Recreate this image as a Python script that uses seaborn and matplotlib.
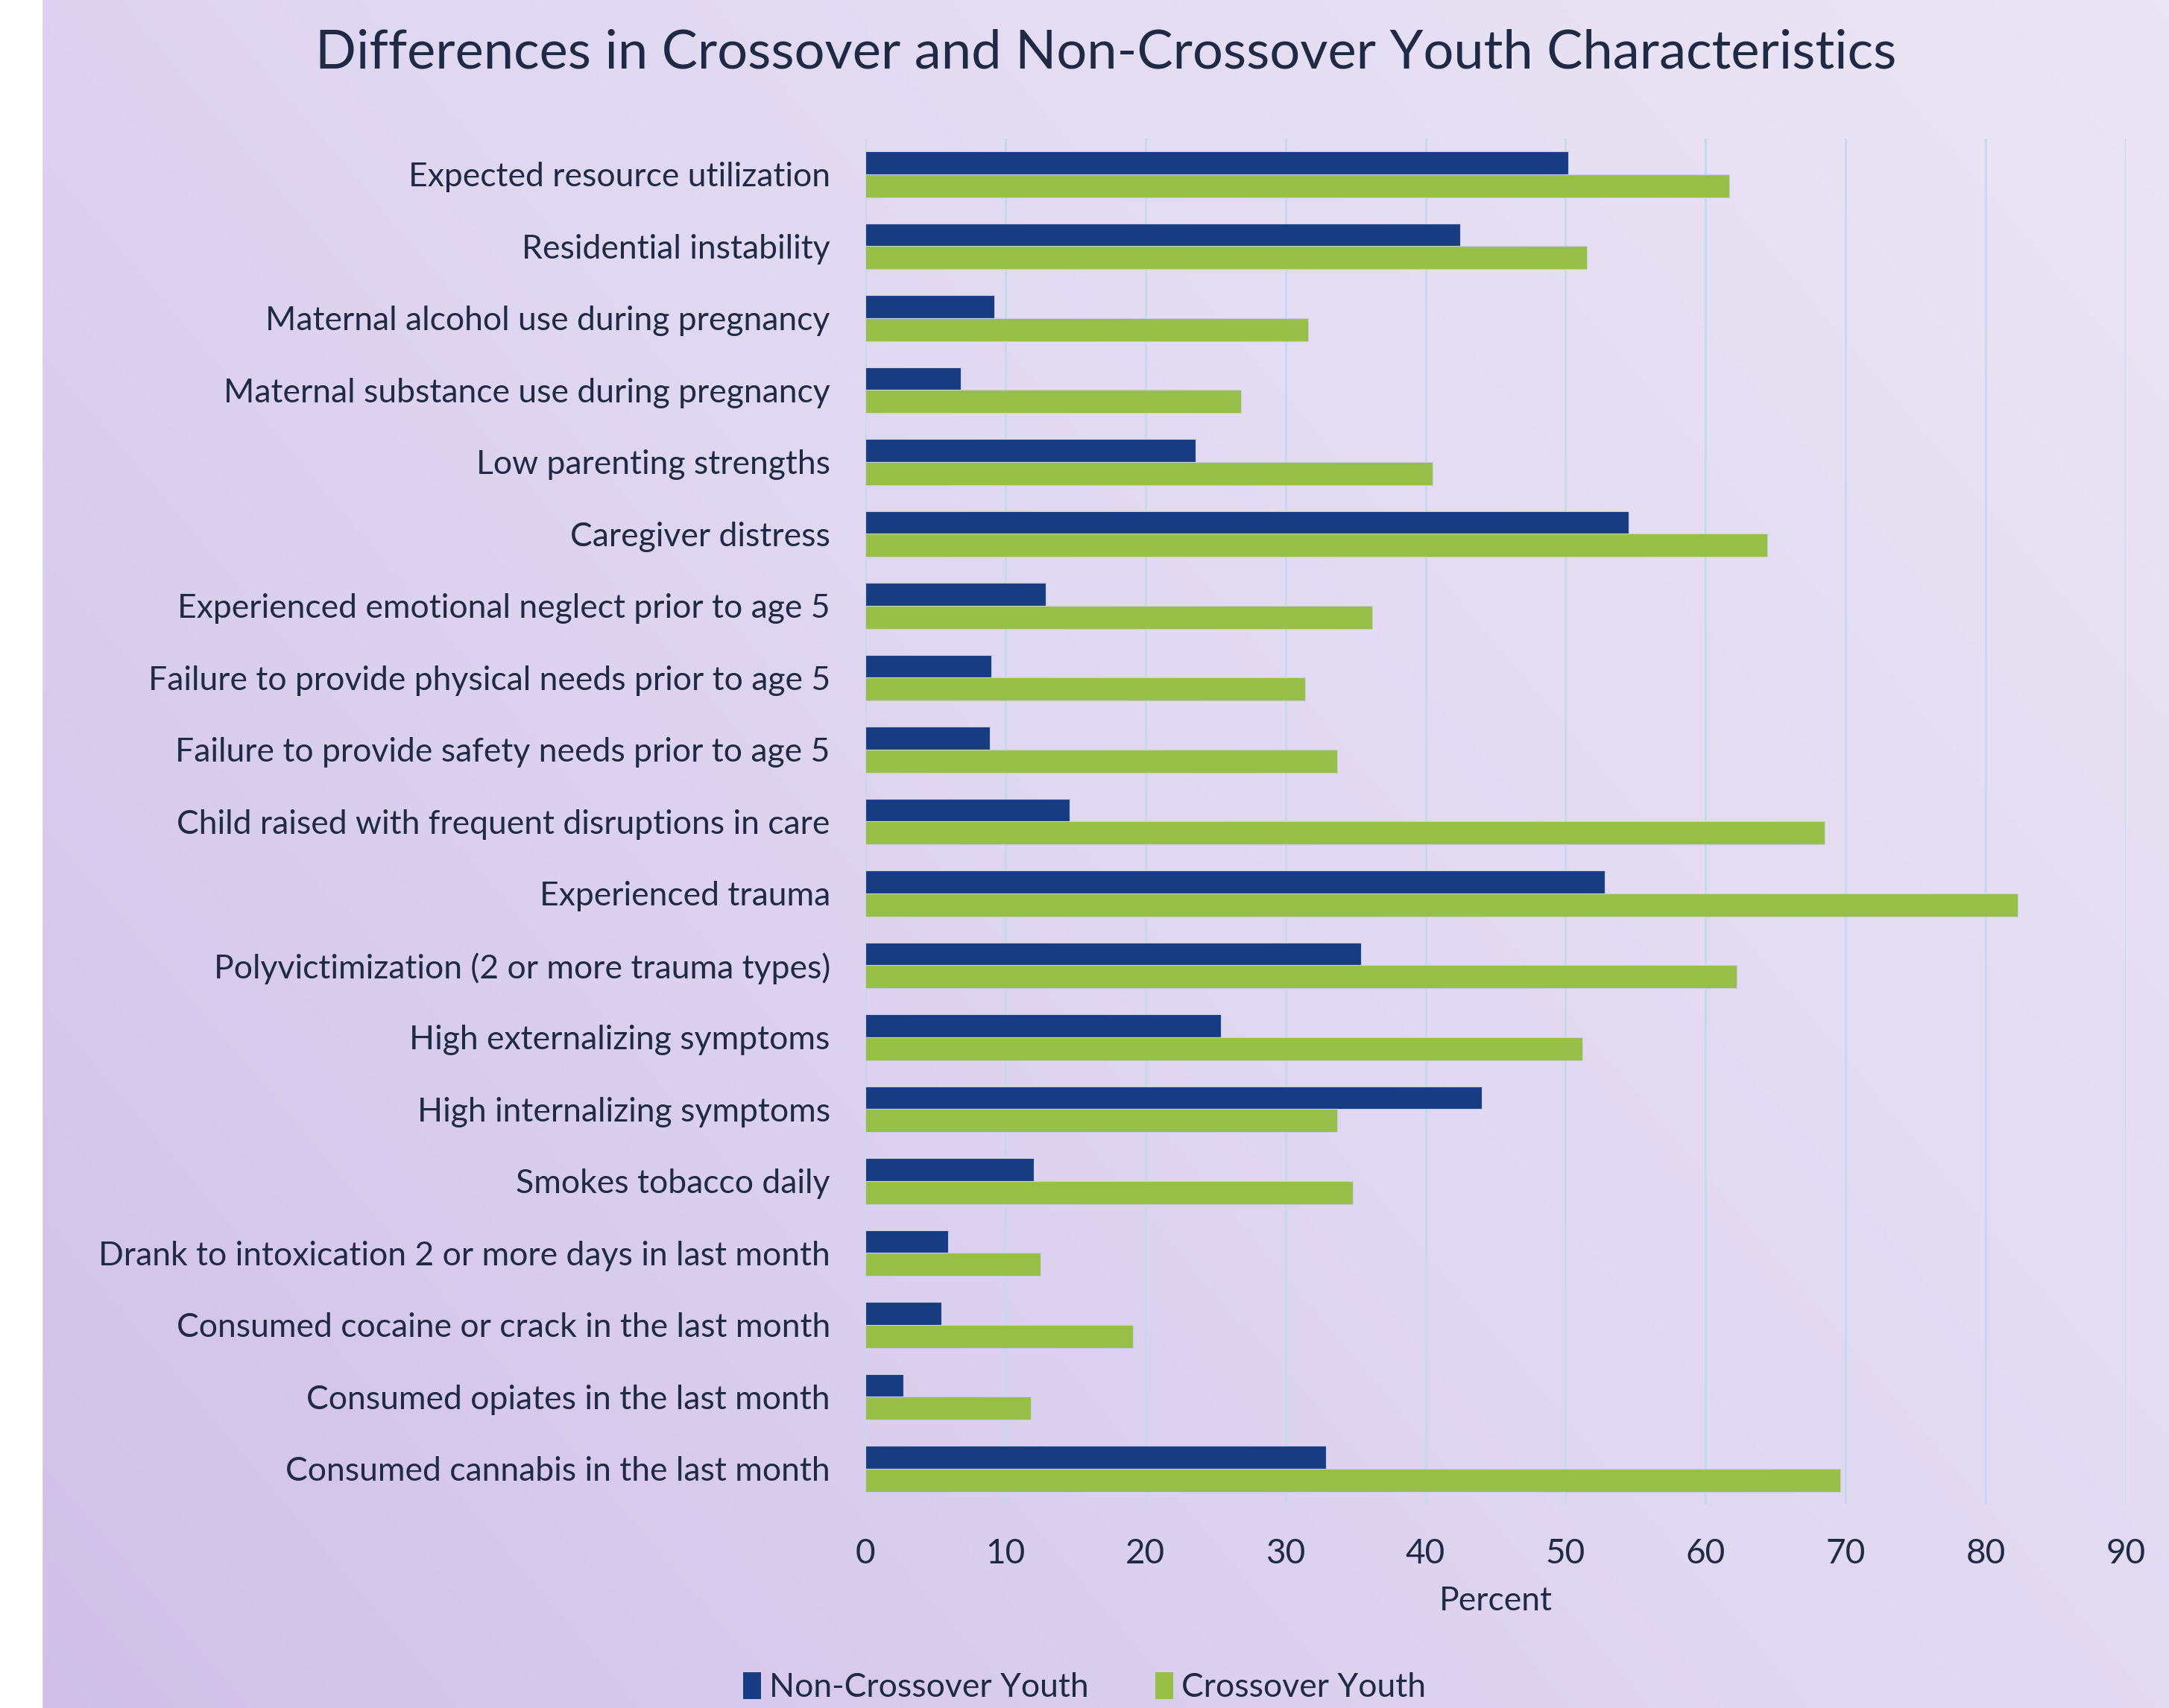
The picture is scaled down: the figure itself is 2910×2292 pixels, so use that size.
import numpy as np
import pandas as pd
import matplotlib
matplotlib.use("Agg")
import matplotlib.pyplot as plt
import seaborn as sns
from matplotlib.colors import LinearSegmentedColormap
from matplotlib.patches import Patch

categories = [
    "Expected resource utilization",
    "Residential instability",
    "Maternal alcohol use during pregnancy",
    "Maternal substance use during pregnancy",
    "Low parenting strengths",
    "Caregiver distress",
    "Experienced emotional neglect prior to age 5",
    "Failure to provide physical needs prior to age 5",
    "Failure to provide safety needs prior to age 5",
    "Child raised with frequent disruptions in care",
    "Experienced trauma",
    "Polyvictimization (2 or more trauma types)",
    "High externalizing symptoms",
    "High internalizing symptoms",
    "Smokes tobacco daily",
    "Drank to intoxication 2 or more days in last month",
    "Consumed cocaine or crack in the last month",
    "Consumed opiates in the last month",
    "Consumed cannabis in the last month",
]
non_crossover = [50.2, 42.5, 9.2, 6.8, 23.6, 54.5, 12.9, 9.0, 8.9, 14.6,
                 52.8, 35.4, 25.4, 44.0, 12.0, 5.9, 5.4, 2.7, 32.9]
crossover = [61.7, 51.5, 31.6, 26.8, 40.5, 64.4, 36.2, 31.4, 33.7, 68.5,
             82.3, 62.2, 51.2, 33.7, 34.8, 12.5, 19.1, 11.8, 69.6]
series_names = ["Non-Crossover Youth", "Crossover Youth"]
x_ticks = [0, 10, 20, 30, 40, 50, 60, 70, 80, 90]

df = pd.DataFrame({
    "Category": categories * 2,
    "Percent": non_crossover + crossover,
    "Group": [series_names[0]] * len(categories) + [series_names[1]] * len(categories),
})

sns.set_theme(style="white")
plt.rcParams["font.family"] = ["Lato", "DejaVu Sans"]

text_col = "#1f2b44"
blue = "#173c82"
green = "#97bf47"
grid_col = "#c6daee"

fig = plt.figure(figsize=(29.10, 22.92), dpi=100)

# background gradient
bg = fig.add_axes([0, 0, 1, 1], zorder=-10)
ny, nx = 200, 300
yy, xx = np.mgrid[0:1:ny * 1j, 0:1:nx * 1j]
t = 0.6 * xx + 0.4 * yy
cmap = LinearSegmentedColormap.from_list("bg", ["#d0c0e8", "#e0d7f1", "#ebe6f5"])
bg.imshow(t, cmap=cmap, origin="lower", extent=[0, 1, 0, 1], aspect="auto", vmin=0, vmax=1)
bg.axvspan(0, 0.0192, color="white", zorder=5)
bg.set_xlim(0, 1)
bg.set_ylim(0, 1)
bg.axis("off")

ax = fig.add_axes([0.399, 0.119, 0.581, 0.800])
ax.set_facecolor("none")
sns.barplot(data=df, y="Category", x="Percent", hue="Group", orient="h",
            palette=[blue, green], saturation=1, width=0.64, ax=ax, legend=False,
            edgecolor="#c9cfe0", linewidth=0.8, zorder=3)

ax.set_xlim(0, 90)
ax.set_ylim(len(categories) - 0.5, -0.5)
ax.set_xticks(x_ticks)
ax.set_xticklabels([str(v) for v in x_ticks])
ax.grid(False)
for v in x_ticks:
    ax.axvline(v, color=grid_col, lw=2.2, zorder=1)
for s in ax.spines.values():
    s.set_visible(False)
ax.tick_params(axis="both", length=0)
ax.tick_params(axis="y", pad=34, labelsize=32, labelcolor=text_col)
ax.tick_params(axis="x", pad=32, labelsize=33, labelcolor=text_col)
ax.set_ylabel("")
ax.set_xlabel("Percent", fontsize=32, color=text_col, labelpad=16)

fig.text(0.51, 0.969, "Differences in Crossover and Non-Crossover Youth Characteristics",
         ha="center", va="center", fontsize=52, color=text_col)

handles = [Patch(facecolor=blue, edgecolor="none"), Patch(facecolor=green, edgecolor="none")]
fig.legend(handles, series_names, loc="center", bbox_to_anchor=(0.5, 0.012),
           ncol=2, frameon=False, fontsize=32, handlelength=0.55, handleheight=0.9,
           handletextpad=0.25, columnspacing=2.0, labelcolor=text_col)

fig.savefig("out.png", dpi=100)
